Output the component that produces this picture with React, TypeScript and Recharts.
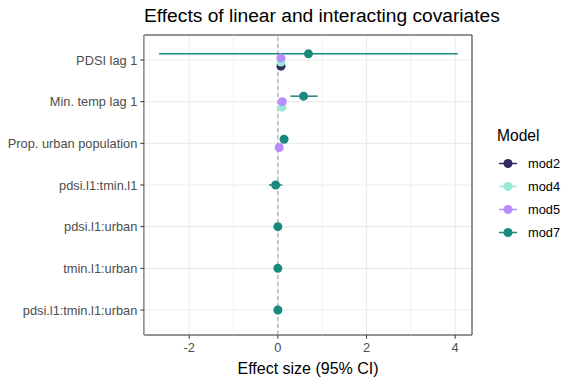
import React from "react";
import {
  ComposedChart,
  Scatter,
  ErrorBar,
  XAxis,
  YAxis,
  CartesianGrid,
  ReferenceLine,
  ReferenceArea,
} from "recharts";

// covariates, top to bottom
const categories = [
  "PDSI lag 1",
  "Min. temp lag 1",
  "Prop. urban population",
  "pdsi.l1:tmin.l1",
  "pdsi.l1:urban",
  "tmin.l1:urban",
  "pdsi.l1:tmin.l1:urban",
];

const models = ["mod2", "mod4", "mod5", "mod7"];
const modelColors = ["#2f2a62", "#98ead5", "#b98bfc", "#188a7d"];

// [category index, estimate, lower CI, upper CI]
const mod2 = [[0, 0.07, 0.03, 0.11]];
const mod4 = [
  [0, 0.07, 0.02, 0.12],
  [1, 0.09, 0.05, 0.13],
];
const mod5 = [
  [0, 0.07, 0.03, 0.11],
  [1, 0.1, 0.06, 0.14],
  [2, 0.03, 0.0, 0.06],
];
const mod7 = [
  [0, 0.69, -2.68, 4.06],
  [1, 0.58, 0.28, 0.9],
  [2, 0.14, 0.09, 0.19],
  [3, -0.05, -0.2, 0.1],
  [4, 0.0, -0.04, 0.04],
  [5, 0.0, -0.03, 0.03],
  [6, 0.0, -0.03, 0.03],
];

const xTicks = [-2, 0, 2, 4];
const xMinor = [-3, -1, 1, 3];
const X_MIN = -3.02;
const X_MAX = 4.38;

const rows = [mod2, mod4, mod5, mod7];
const DODGE = 0.395;

// position_dodge-like vertical offset per category
const buildSeries = (m: number) =>
  rows[m].map(([c, est, lo, hi]) => {
    const present = rows
      .map((r, i) => (r.some((p) => p[0] === c) ? i : -1))
      .filter((i) => i >= 0);
    const n = present.length;
    const j = present.indexOf(m);
    return {
      x: est,
      y: c + ((n - 1) / 2 - j) * (DODGE / n),
      err: [est - lo, hi - est],
    };
  });

const FONT = '"Liberation Sans", Arial, sans-serif';

const Dot = (color: string) => (props: any) =>
  <circle cx={props.cx} cy={props.cy} r={4.5} fill={color} />;

const CategoryTick = (props: any) => (
  <text
    x={props.x}
    y={props.y}
    dy="0.36em"
    textAnchor="end"
    fill="#4d4d4d"
    fontSize={12.8}
    fontFamily={FONT}
  >
    {categories[props.payload.value]}
  </text>
);

export default function App() {
  return (
    <div style={{ position: "absolute", left: 0, top: 0, width: 576, height: 384, background: "#fff", fontFamily: FONT }}>
      <div style={{ position: "absolute", left: 144, top: 5, fontSize: 19.2, lineHeight: "22px", color: "#000", whiteSpace: "nowrap" }}>
        Effects of linear and interacting covariates
      </div>
      <ComposedChart
        width={576}
        height={384}
        margin={{ top: 35, right: 104, bottom: 0, left: 0 }}
        style={{ fontFamily: FONT }}
      >
        <CartesianGrid stroke="#ebebeb" strokeWidth={1.1} />
        {xMinor.map((v) => (
          <ReferenceLine key={v} x={v} stroke="#ebebeb" strokeWidth={0.6} />
        ))}
        <ReferenceLine x={0} stroke="#ababab" strokeWidth={1.2} strokeDasharray="4 3" />
        <XAxis
          type="number"
          dataKey="x"
          domain={[X_MIN, X_MAX]}
          ticks={xTicks}
          interval={0}
          height={49}
          axisLine={false}
          tickSize={3.7}
          tickMargin={4.5}
          tickLine={{ stroke: "#333333" }}
          tick={{ fill: "#4d4d4d", fontSize: 12.8 }}
          label={{ value: "Effect size (95% CI)", position: "insideBottom", offset: 10, fill: "#000", fontSize: 16 }}
        />
        <YAxis
          type="number"
          dataKey="y"
          domain={[-0.6, 6.6]}
          reversed
          ticks={categories.map((_, i) => i)}
          interval={0}
          width={144}
          axisLine={false}
          tickSize={3.7}
          tickMargin={3}
          tickLine={{ stroke: "#333333" }}
          tick={CategoryTick}
        />
        {models.map((name, m) => (
          <Scatter
            key={name}
            name={name}
            data={buildSeries(m)}
            fill={modelColors[m]}
            shape={Dot(modelColors[m])}
            isAnimationActive={false}
          >
            <ErrorBar
              dataKey="err"
              direction="x"
              width={0}
              stroke={modelColors[m]}
              strokeWidth={1.5}
              isAnimationActive={false}
            />
          </Scatter>
        ))}
        <ReferenceArea
          x1={X_MIN}
          x2={X_MAX}
          y1={-0.6}
          y2={6.6}
          fill="none"
          fillOpacity={0}
          stroke="#333333"
          strokeWidth={1}
        />
      </ComposedChart>
      <div style={{ position: "absolute", left: 497, top: 126 }}>
        <div style={{ fontSize: 15.6, lineHeight: "20px", color: "#000", marginBottom: 6 }}>Model</div>
        {models.map((name, m) => (
          <div key={name} style={{ display: "flex", alignItems: "center", height: 23 }}>
            <svg width={24} height={23}>
              <line x1={2} x2={20} y1={11.5} y2={11.5} stroke={modelColors[m]} strokeWidth={1.5} />
              <circle cx={11} cy={11.5} r={4.5} fill={modelColors[m]} />
            </svg>
            <span style={{ fontSize: 12.8, color: "#000", marginLeft: 7 }}>{name}</span>
          </div>
        ))}
      </div>
    </div>
  );
}
